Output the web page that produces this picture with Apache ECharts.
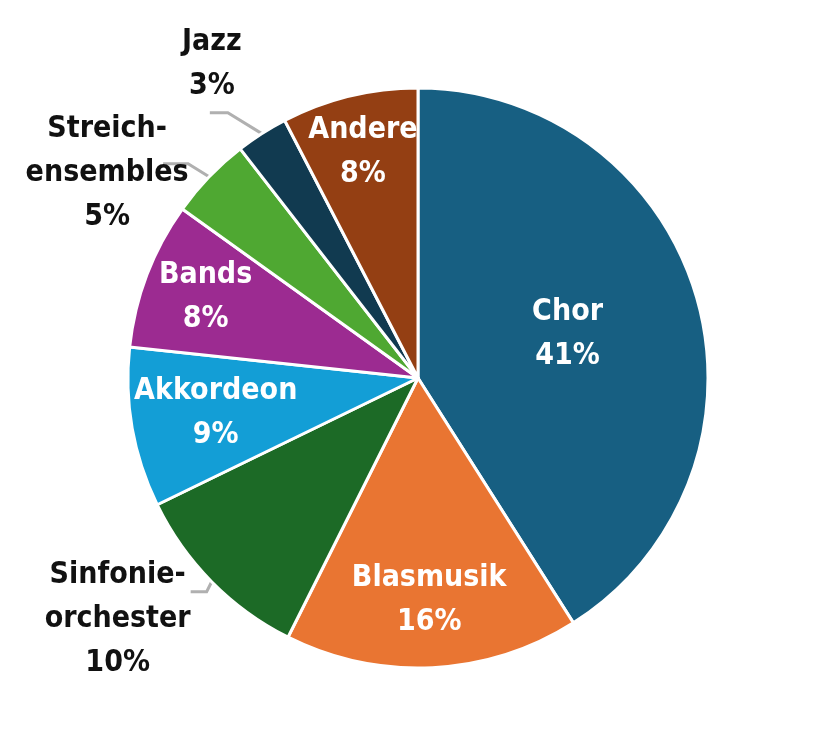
<!DOCTYPE html>
<html><head><meta charset="utf-8">
<script src="https://cdn.jsdelivr.net/npm/echarts@6/dist/echarts.min.js"></script>
<style>html,body{margin:0;padding:0;background:#fff}#c{width:837px;height:756px}</style>
</head><body><div id="c"></div>
<script>
// ---- data ----
const categories = ["Chor", "Blasmusik", "Sinfonie-\norchester", "Akkordeon", "Bands", "Streich-\nensembles", "Jazz", "Andere"];
const shares = [41.0, 16.4, 10.4, 8.9, 8.2, 4.6, 2.9, 7.6];

// ---- style ----
const colors = ["#175f82", "#e97532", "#1c6a26", "#139ed6", "#9c2b91", "#4fa832", "#113a50", "#943f13"];
const outside = [false, false, true, false, false, true, true, false];
const insideRadius = [0.537, 0.767, 0, 0.708, 0.784, 0, 0, 0.803];
// leader line shape: first bend offset from the slice edge, then horizontal run
const bendOffset = [null, null, [-5, 10], null, null, [-21, -13], [-34, -21], null];
const runLength = [0, 0, 16, 0, 0, 25, 18, 0];
const outsideOffset = [null, null, [-73, 27], null, null, [-56, 9], [2, -48], null];
const CX = 418, CY = 378, R = 290;
const FONT = '"DejaVu Sans Condensed","Liberation Sans Narrow",sans-serif';

const chart = echarts.init(document.getElementById('c'), null, {renderer: 'canvas'});
const data = categories.map((name, i) => ({
  name: name,
  value: shares[i],
  itemStyle: {color: colors[i]},
  label: outside[i]
    ? {position: 'outside', color: '#111111'}
    : {position: 'inside', color: '#ffffff'},
  labelLine: outside[i]
    ? {show: true, length: 20, length2: runLength[i], smooth: false,
       lineStyle: {color: '#b0b0b0', width: 3}}
    : {show: false}
}));

chart.setOption({
  animation: false,
  backgroundColor: '#ffffff',
  series: [{
    type: 'pie',
    center: [CX, CY],
    radius: [0, R],
    startAngle: 90,
    clockwise: true,
    avoidLabelOverlap: false,
    itemStyle: {borderColor: '#ffffff', borderWidth: 3},
    label: {
      show: true,
      fontFamily: FONT,
      fontWeight: 'bold',
      fontSize: 30,
      lineHeight: 44,
      align: 'center',
      formatter: p => p.name + '\n' + Math.round(p.value) + '%'
    },
    labelLayout: function (p) {
      const i = p.dataIndex;
      const r = p.labelRect;
      const lcx = r.x + r.width / 2, lcy = r.y + r.height / 2;
      if (!outside[i]) {
        const dx = lcx - CX, dy = lcy - CY;
        const d = Math.sqrt(dx * dx + dy * dy) || 1;
        return {
          x: CX + dx / d * insideRadius[i] * R,
          y: CY + dy / d * insideRadius[i] * R,
          align: 'center', verticalAlign: 'middle'
        };
      }
      const p0 = p.labelLinePoints[0];
      const p1 = [p0[0] + bendOffset[i][0], p0[1] + bendOffset[i][1]];
      const p2 = [p1[0] - runLength[i], p1[1]];
      const off = outsideOffset[i];
      return {
        x: p2[0] + off[0], y: p2[1] + off[1],
        align: 'center', verticalAlign: 'middle',
        labelLinePoints: [p0, p1, p2]
      };
    },
    data: data
  }]
});
</script>
</body></html>
